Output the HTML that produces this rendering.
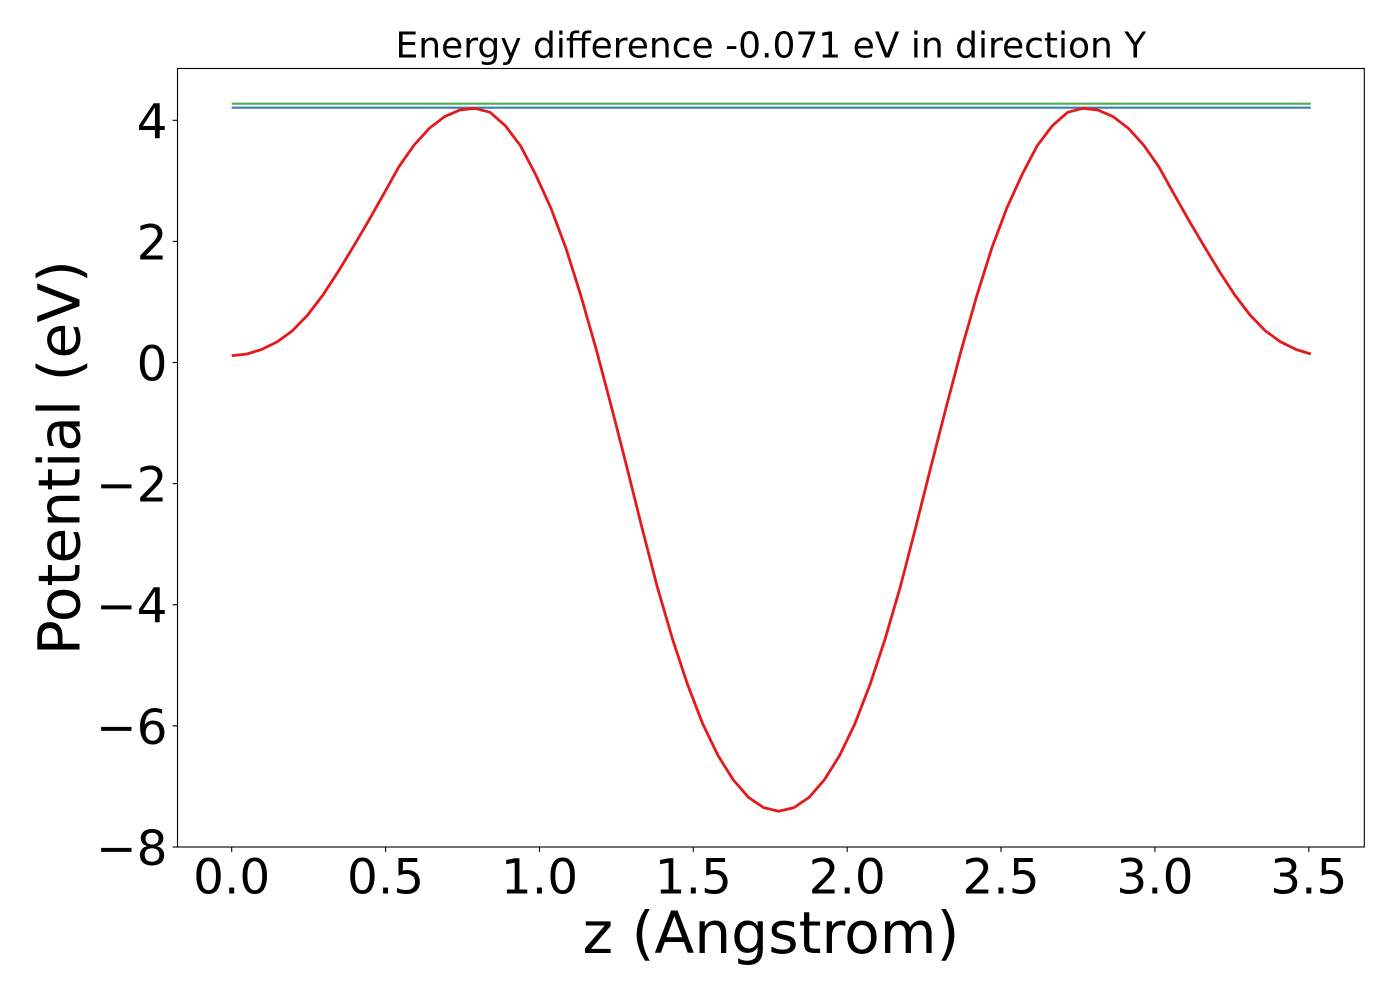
<!DOCTYPE html>
<html>
<head>
<meta charset="utf-8">
<style>
  html, body { margin: 0; padding: 0; background: #ffffff; }
  svg { display: block; }
  text { font-family: "DejaVu Sans", "Liberation Sans", sans-serif; fill: #000; }
</style>
</head>
<body>
<svg width="1400" height="1000" viewBox="0 0 1400 1000" xmlns="http://www.w3.org/2000/svg">
  <rect x="0" y="0" width="1400" height="1000" fill="#ffffff"/>

  <!-- horizontal reference lines -->
  <line x1="231.7" y1="103.7" x2="1310.8" y2="103.7" stroke="#4daf4a" stroke-width="2.1"/>
  <line x1="231.7" y1="107.7" x2="1310.8" y2="107.7" stroke="#377eb8" stroke-width="2.1"/>

  <!-- potential curve -->
  <polyline fill="none" stroke="#e41a1c" stroke-width="2.8" stroke-linejoin="round" stroke-linecap="butt"
    points="231.7,355.72 246.9,354.02 262.1,349.30 277.3,341.73 292.5,330.71 307.7,315.02 322.9,294.98 338.1,271.72 353.3,246.71 368.5,220.97 383.7,194.02 398.9,166.71 414.1,145.03 429.3,128.31 444.5,116.68 459.7,110.03 474.9,108.32 490.1,112.33 505.3,125.71 520.5,145.70 535.7,174.76 550.9,208.07 566.1,248.65 581.3,297.10 596.5,350.39 611.7,407.92 626.9,467.27 642.0,527.83 657.2,586.57 672.4,638.65 687.6,684.68 702.8,724.04 718.0,755.53 733.2,779.76 748.4,797.32 763.6,807.62 778.8,811.25 794.0,807.62 809.2,797.32 824.4,779.76 839.6,755.53 854.8,724.04 870.0,684.68 885.2,638.65 900.4,586.57 915.6,527.83 930.8,467.27 946.0,407.92 961.2,350.39 976.4,297.10 991.6,248.65 1006.8,208.07 1022.0,174.76 1037.2,145.70 1052.4,125.71 1067.6,112.33 1082.8,108.32 1098.0,110.03 1113.2,116.68 1128.4,128.31 1143.6,145.03 1158.8,166.71 1174.0,194.02 1189.2,220.97 1204.4,246.71 1219.6,271.72 1234.8,294.98 1250.0,315.02 1265.2,330.71 1280.4,341.73 1295.6,349.30 1310.8,354.02"/>

  <!-- axes frame -->
  <rect x="177.5" y="68.5" width="1186.8" height="778.5" fill="none" stroke="#000" stroke-width="1.1"/>

  <!-- y ticks -->
  <g stroke="#000" stroke-width="1.1">
    <line x1="172.6" y1="120.3" x2="177.5" y2="120.3"/>
    <line x1="172.6" y1="241.4" x2="177.5" y2="241.4"/>
    <line x1="172.6" y1="362.5" x2="177.5" y2="362.5"/>
    <line x1="172.6" y1="483.6" x2="177.5" y2="483.6"/>
    <line x1="172.6" y1="604.7" x2="177.5" y2="604.7"/>
    <line x1="172.6" y1="725.9" x2="177.5" y2="725.9"/>
    <line x1="172.6" y1="847.0" x2="177.5" y2="847.0"/>
  </g>
  <g font-size="48.5" text-anchor="end">
    <text x="167.5" y="138.3">4</text>
    <text x="167.5" y="259.4">2</text>
    <text x="167.5" y="380.5">0</text>
    <text x="167.5" y="501.6">−2</text>
    <text x="167.5" y="622.7">−4</text>
    <text x="167.5" y="743.9">−6</text>
    <text x="167.5" y="865.0">−8</text>
  </g>

  <!-- x ticks -->
  <g stroke="#000" stroke-width="1.1">
    <line x1="231.7" y1="847" x2="231.7" y2="851.9"/>
    <line x1="385.6" y1="847" x2="385.6" y2="851.9"/>
    <line x1="539.5" y1="847" x2="539.5" y2="851.9"/>
    <line x1="693.3" y1="847" x2="693.3" y2="851.9"/>
    <line x1="847.2" y1="847" x2="847.2" y2="851.9"/>
    <line x1="1001.0" y1="847" x2="1001.0" y2="851.9"/>
    <line x1="1154.9" y1="847" x2="1154.9" y2="851.9"/>
    <line x1="1308.8" y1="847" x2="1308.8" y2="851.9"/>
  </g>
  <g font-size="48.5" text-anchor="middle">
    <text x="231.7" y="893.5">0.0</text>
    <text x="385.6" y="893.5">0.5</text>
    <text x="539.5" y="893.5">1.0</text>
    <text x="693.3" y="893.5">1.5</text>
    <text x="847.2" y="893.5">2.0</text>
    <text x="1001.0" y="893.5">2.5</text>
    <text x="1154.9" y="893.5">3.0</text>
    <text x="1308.8" y="893.5">3.5</text>
  </g>

  <!-- axis labels -->
  <text x="770.9" y="953" font-size="58.3" text-anchor="middle">z (Angstrom)</text>
  <text transform="translate(79.5,457.7) rotate(-90)" font-size="58.3" text-anchor="middle">Potential (eV)</text>

  <!-- title -->
  <text x="770.9" y="57.5" font-size="36" text-anchor="middle">Energy difference -0.071 eV in direction Y</text>
</svg>
</body>
</html>
